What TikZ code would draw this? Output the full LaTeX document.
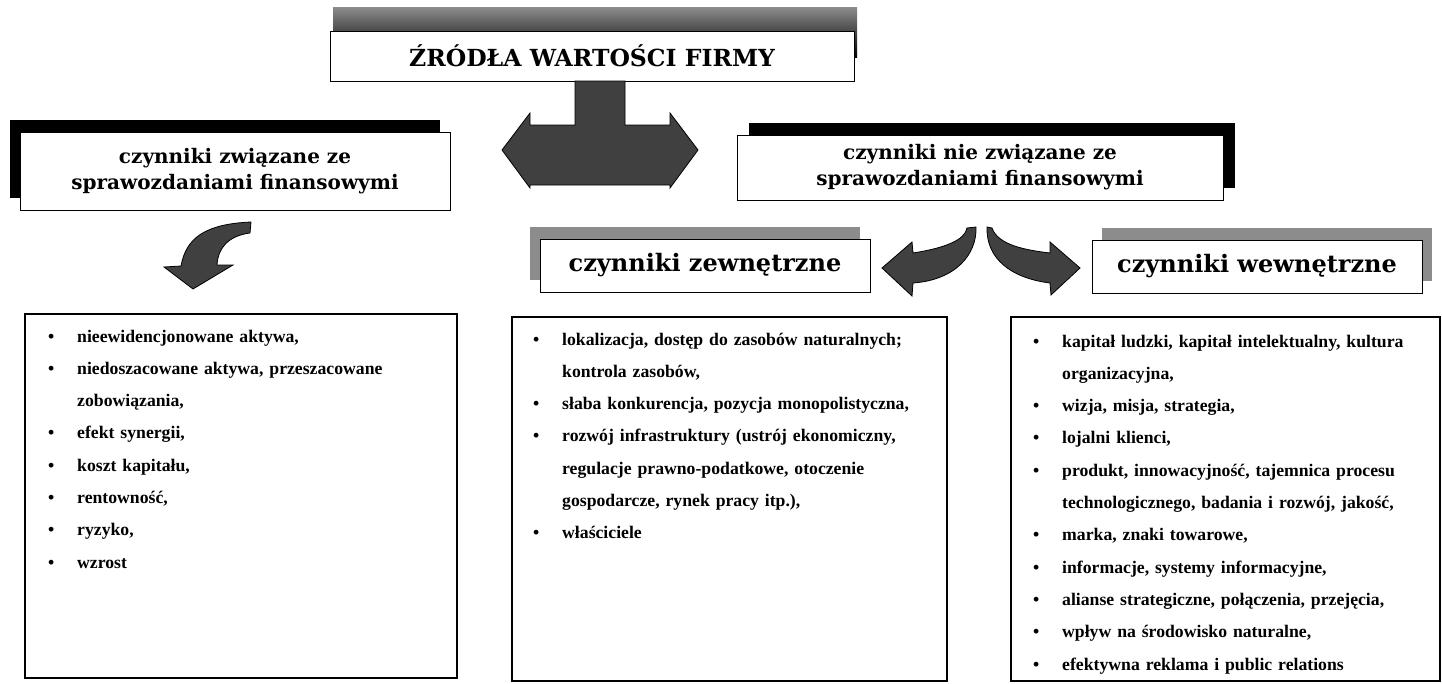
\documentclass[tikz,border=0pt]{standalone}
\usepackage{fontspec}
\newfontfamily\headfont{DejaVu Serif}
\newfontfamily\listfont{Liberation Serif}
\usetikzlibrary{shadows}
\newcommand{\pkt}{\hangindent=29pt\hangafter=1\noindent\makebox[29pt][l]{\textbullet}}

\begin{document}
\begin{tikzpicture}[x=1pt,y=-1pt,
  headbox/.style={draw=black,fill=white,line width=1pt,align=center,inner sep=0pt,font=\headfont\fontsize{#1}{26}\bfseries},
  darkshade/.style={general shadow={fill=black,shadow xshift=#1,shadow yshift=12pt}},
  greyshade/.style={general shadow={fill=black!45,shadow xshift=#1,shadow yshift=12pt}},
  listbox/.style={draw=black,line width=2.5pt,minimum height=364pt},
  listtext/.style={anchor=base west,text width=405pt,align=left,inner sep=0pt,font=\listfont\fontsize{17.7}{32.3}\bfseries},
  blockarrow/.style={fill=black!75,draw=black,line width=0.8pt}]
\useasboundingbox (0,0) rectangle (1442,683);

% Title
\node[headbox=23.5,minimum width=524pt,minimum height=50pt,
  general shadow={top color=black!45,middle color=black,bottom color=black,shadow xshift=3pt,shadow yshift=24pt}]
  (title) at (592,56) {ŹRÓDŁA WARTOŚCI FIRMY};

% Two groups of factors
\node[headbox=20,darkshade=-10pt,minimum width=430pt,minimum height=78pt] (fin) at (235,171) {czynniki związane ze\\sprawozdaniami finansowymi};
\node[headbox=20,darkshade=12pt,minimum width=486pt,minimum height=65pt] (nonfin) at (980,167.5) {czynniki nie związane ze\\sprawozdaniami finansowymi};
\node[headbox=24,greyshade=-10pt,minimum width=330pt,minimum height=53pt] (ext) at (705,265.5) {czynniki zewnętrzne};
\node[headbox=24,greyshade=10pt,minimum width=330pt,minimum height=53pt] (int) at (1257,266.5) {czynniki wewnętrzne};

% Block arrows
\draw[blockarrow] (575,81) -- (625,81) -- (625,125) -- (670,125) -- (670,113) -- (698,150) -- (670,188) -- (670,185)
  -- (530,185) -- (530,188) -- (502,150) -- (530,113) -- (530,125) -- (575,125) -- cycle;
\draw[blockarrow] (251,222) -- (250,233) .. controls (228,236) and (218,248) .. (217,265) -- (233,265) -- (193,289)
  -- (164,267) -- (181,266) .. controls (186,238) and (205,224) .. (251,222) -- cycle;
\draw[blockarrow] (976,227) .. controls (977,255) and (955,280) .. (913,283) -- (912,296) -- (882,268) -- (912,242)
  -- (913,253) .. controls (945,248) and (965,240) .. (967,228) -- cycle;
\draw[blockarrow] (987,227) -- (992,228) .. controls (998,245) and (1025,250) .. (1050,253) -- (1050,242) -- (1080,268)
  -- (1051,295) -- (1050,283) .. controls (1010,278) and (986,258) .. (987,227) -- cycle;

% Lists
\node[listbox,minimum width=432pt] (finlist) at (241,496) {};
\node[listbox,minimum width=435pt] (extlist) at (729.5,499) {};
\node[listbox,minimum width=429pt] (intlist) at (1225.5,499) {};

\node[listtext] (fintxt) at (48,342) {%
\pkt nieewidencjonowane aktywa,\par
\pkt niedoszacowane aktywa, przeszacowane\newline zobowiązania,\par
\pkt efekt synergii,\par
\pkt koszt kapitału,\par
\pkt rentowność,\par
\pkt ryzyko,\par
\pkt wzrost};
\node[listtext] (exttxt) at (533,345) {%
\pkt lokalizacja, dostęp do zasobów naturalnych;\newline kontrola zasobów,\par
\pkt słaba konkurencja, pozycja monopolistyczna,\par
\pkt rozwój infrastruktury (ustrój ekonomiczny,\newline regulacje prawno-podatkowe, otoczenie\newline gospodarcze, rynek pracy itp.),\par
\pkt właściciele};
\node[listtext] (inttxt) at (1033,347) {%
\pkt kapitał ludzki, kapitał intelektualny, kultura\newline organizacyjna,\par
\pkt wizja, misja, strategia,\par
\pkt lojalni klienci,\par
\pkt produkt, innowacyjność, tajemnica procesu\newline technologicznego, badania i rozwój, jakość,\par
\pkt marka, znaki towarowe,\par
\pkt informacje, systemy informacyjne,\par
\pkt alianse strategiczne, połączenia, przejęcia,\par
\pkt wpływ na środowisko naturalne,\par
\pkt efektywna reklama i public relations};
\end{tikzpicture}
\end{document}
